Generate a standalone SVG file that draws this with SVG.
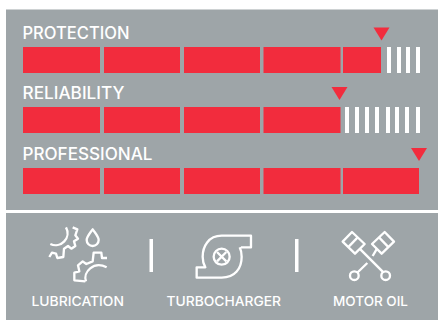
<svg xmlns="http://www.w3.org/2000/svg" width="438" height="320" viewBox="0 0 438 320">
<style>
.p{fill:#9ea5a8}
.r{fill:#f22c3d}
.w{fill:#fff}
.t{font-family:"Inter","Liberation Sans",sans-serif;fill:#fff;font-weight:500}
.h{font-size:17px}
.l{font-size:13.5px}
.i{fill:none;stroke:#fff;stroke-width:7;stroke-linejoin:round}
</style>
<rect width="438" height="320" fill="#fff"/>
<rect class="p" x="6" y="9.500" width="432" height="200.500"/>
<rect class="p" x="6" y="213" width="432" height="107"/>
<g id="protection">
<text class="t h" x="22.500" y="39" textLength="107" lengthAdjust="spacingAndGlyphs">PROTECTION</text>
<path class="r" d="M23,47h77v26h-77zM104,47h76v26h-76zM184,47h76v26h-76zM263.500,47h77v26h-77zM343,47h38v26h-38z"/>
<path class="w" d="M387,47h4v26h-4zM397,47h4v26h-4zM406,47h4v26h-4zM416,47h4v26h-4z"/>
<path class="r" d="M373.500,27.500h16l-8,13z"/>
</g>
<g id="reliability">
<text class="t h" x="22.500" y="99" textLength="102" lengthAdjust="spacingAndGlyphs">RELIABILITY</text>
<path class="r" d="M23,107h77v26h-77zM104,107h76v26h-76zM184,107h76v26h-76zM263.500,107h77v26h-77z"/>
<path class="w" d="M345,107h4v26h-4zM355,107h4v26h-4zM365,107h4v26h-4zM375,107h4v26h-4zM386,107h4v26h-4zM395,107h4v26h-4zM405,107h4v26h-4zM416,107h4v26h-4z"/>
<path class="r" d="M331.500,87h16l-8,13z"/>
</g>
<g id="professional">
<text class="t h" x="22.500" y="160" textLength="130" lengthAdjust="spacingAndGlyphs">PROFESSIONAL</text>
<path class="r" d="M23,168h77v26h-77zM104,168h76v26h-76zM184,168h76v26h-76zM263.500,168h77v26h-77zM343,168h76v26h-76z"/>
<path class="r" d="M411,148h16l-8,13z"/>
</g>
<g id="lubrication">
<g class="i" transform="translate(42,222) scale(.3333)">
<path d="M25,66A36,36 0 0 0 72,16"/>
<path d="M92,16L106,22L100,40L108,50L96,58L100,72L88,80L78,72L66,80L64,105L46,108L42,95L30,92L22,105"/>
<path d="M152,22C140,39 134,45 134,54A18,18 0 0 0 170,54C170,45 164,39 152,22Z"/>
<path d="M132,178C122,150 155,116 194,136"/>
<path d="M130,178L97,175L97,152L112,148L108,130L122,118L133,126L152,118L155,92L178,92L180,108L195,108"/>
</g>
<text class="t l" x="31.500" y="306" textLength="92.500" lengthAdjust="spacingAndGlyphs">LUBRICATION</text>
</g>
<rect class="w" x="149.500" y="239" width="3.500" height="33"/>
<g id="turbocharger">
<g class="i" transform="translate(140,215) scale(.3333)">
<path d="M303,97H333V62H245C205,62 188,95 188,125C188,140 192,150 196,157H170V188H245C285,188 305,160 305,125C305,115 303,105 299,97"/>
<circle cx="245" cy="125" r="24"/>
<path d="M231,111L259,139M259,111L231,139"/>
</g>
<text class="t l" x="166.500" y="306" textLength="114.500" lengthAdjust="spacingAndGlyphs">TURBOCHARGER</text>
</g>
<rect class="w" x="295" y="239" width="3.500" height="33"/>
<g id="motor-oil">
<g class="i" transform="translate(335,225) scale(.3333)">
<path d="M23,50L51,21L89,57L60,86Z"/>
<path d="M39,67L68,37"/>
<path d="M74,71L146,143"/>
<circle cx="152" cy="152" r="13"/>
<path d="M177,50L149,21L111,57L140,86Z"/>
<path d="M161,67L132,37"/>
<path d="M126,71L113,93M97,114L66,144"/>
<circle cx="58" cy="152" r="13"/>
</g>
<text class="t l" x="333" y="306" textLength="75" lengthAdjust="spacingAndGlyphs">MOTOR OIL</text>
</g>
</svg>
